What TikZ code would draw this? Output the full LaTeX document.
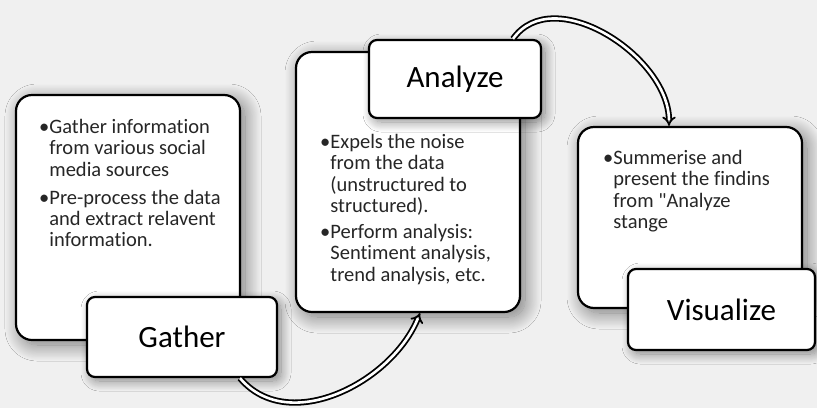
\documentclass[tikz,border=0pt]{standalone}
\usepackage{fontspec}
\setmainfont[Ligatures={NoCommon,TeXOff}]{Carlito}
\usetikzlibrary{arrows.meta,shadows.blur}
\newcommand\ind{\phantom{\textbullet}}
\tikzset{
  bigbox/.style={draw, line width=2.2pt, rounded corners=16pt, fill=white,
    blur shadow={shadow xshift=5pt, shadow yshift=-5pt, shadow opacity=50, shadow blur radius=16pt, shadow blur steps=20}},
  labelbox/.style={draw, line width=2.2pt, rounded corners=8pt, fill=white,
    font=\fontsize{31}{35}\selectfont,
    blur shadow={shadow xshift=4pt, shadow yshift=-4pt, shadow opacity=45, shadow blur radius=10pt, shadow blur steps=15}},
  txt/.style={anchor=north west, inner sep=0pt, align=left, text=black!85,
    font=\fontsize{20.5}{21.3}\selectfont},
  flow/.style={double=white, double distance=2.6pt, line width=1.8pt, -{Implies}}
}
\begin{document}
\begin{tikzpicture}[x=1pt,y=-1pt]
\useasboundingbox (0,0) rectangle (817,408);
\fill[black!6] (0,0) rectangle (817,408);
% Gather
\node[bigbox, minimum width=224pt, minimum height=245pt] (gb) at (128,217.5) {};
\node[txt] (gt) at (39,119) {\textbullet Gather information\\ \ind from various social\\ \ind media sources\\[7pt]
\textbullet Pre-process the data\\ \ind and extract relavent\\ \ind information.};
\node[labelbox, minimum width=190pt, minimum height=80pt] (gl) at (182,337) {Gather};
% Analyze
\node[bigbox, minimum width=224pt, minimum height=260pt] (ab) at (408,182) {};
\node[txt] (at) at (320,134) {\textbullet Expels the noise\\ \ind from the data\\ \ind (unstructured to\\ \ind structured).\\[5pt]
\textbullet Perform analysis:\\ \ind Sentiment analysis,\\ \ind trend analysis, etc.};
\node[labelbox, minimum width=172pt, minimum height=78pt] (al) at (455,79) {Analyze};
% Visualize
\node[bigbox, minimum width=224pt, minimum height=181pt] (vb) at (690,217.5) {};
\node[txt] (vt) at (603,150) {\textbullet Summerise and\\ \ind present the findins\\ \ind from "Analyze\\ \ind stange};
\node[labelbox, minimum width=187pt, minimum height=81pt] (vl) at (721.5,309.5) {Visualize};
% arrows
\draw[flow] ([xshift=58pt]gl.south) to[out=-50, in=-112] ([xshift=12pt]ab.south);
\draw[flow] ([xshift=58pt]al.north) to[out=55, in=90] ([xshift=-21pt]vb.north);
\end{tikzpicture}
\end{document}
